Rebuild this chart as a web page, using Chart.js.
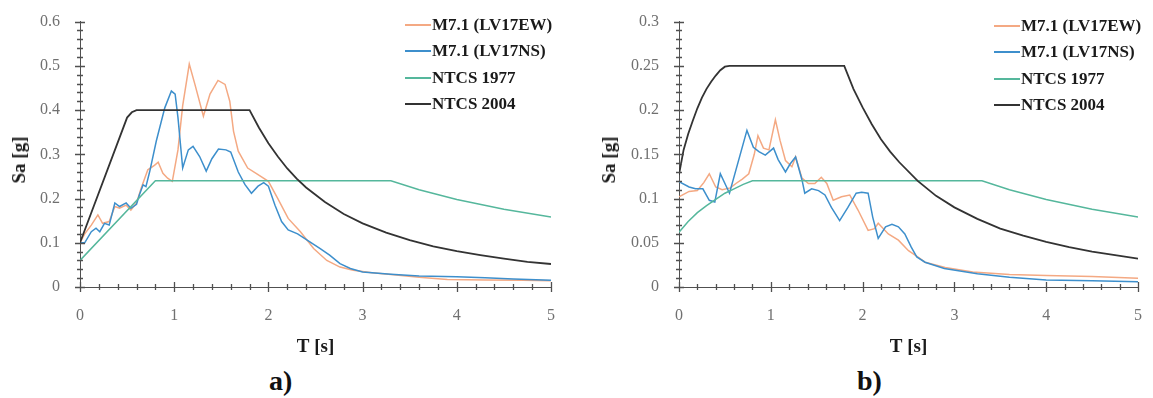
<!DOCTYPE html>
<html><head><meta charset="utf-8">
<script src="https://cdn.jsdelivr.net/npm/chart.js@4"></script>
<style>
body{margin:0;background:#fff;width:1153px;height:398px;position:relative;overflow:hidden;font-family:'Liberation Serif','Times New Roman',serif}
canvas{position:absolute;top:0}
#ca{left:0}
#cb{left:576px}
.leg{position:absolute;font-weight:bold;font-size:17px;color:#1a1a1a;white-space:nowrap}
.leg div{position:absolute;left:0;height:20px;line-height:20px}
.leg span{display:inline-block;width:26px;height:2px;vertical-align:middle;margin-right:1px;position:relative;top:-1px}
.yt{position:absolute;font-weight:bold;font-size:19px;color:#1a1a1a;white-space:nowrap;transform:translate(-50%,-50%) rotate(-90deg)}
.pl{position:absolute;font-weight:bold;font-size:28px;color:#111;line-height:30px}
</style></head>
<body>
<canvas id="ca" width="576" height="360"></canvas>
<canvas id="cb" width="577" height="360"></canvas>
<div class="yt" style="left:19px;top:160px">Sa [g]</div>
<div class="yt" style="left:609px;top:160px">Sa [g]</div>
<div class="pl" style="left:269px;top:366px">a)</div>
<div class="pl" style="left:857px;top:366px">b)</div>
<div class="leg" id="lega" style="left:405px;top:15px"></div>
<div class="leg" id="legb" style="left:994px;top:16px"></div>
<script>
// ---------- categories / labels ----------
const seriesNames = ['M7.1 (LV17EW)', 'M7.1 (LV17NS)', 'NTCS 1977', 'NTCS 2004'];
const xTicks = [0, 1, 2, 3, 4, 5];
const yTicksA = [0, 0.1, 0.2, 0.3, 0.4, 0.5, 0.6];
const yTicksB = [0, 0.05, 0.1, 0.15, 0.2, 0.25, 0.3];

// ---------- panel a) ----------
const tA_EW = [0, 0.05, 0.12, 0.19, 0.24, 0.31, 0.37, 0.42, 0.49, 0.54, 0.6, 0.65, 0.72, 0.79, 0.83, 0.88, 0.93, 0.98, 1.04, 1.09, 1.16, 1.22, 1.31, 1.38, 1.465, 1.54, 1.59, 1.63, 1.68, 1.78, 1.89, 2.0, 2.1, 2.21, 2.34, 2.48, 2.62, 2.76, 2.9, 3.1, 3.3, 3.6, 3.9, 4.3, 4.7, 5.0];
const sA_EW = [0.10, 0.12, 0.14, 0.163, 0.144, 0.148, 0.182, 0.178, 0.185, 0.174, 0.19, 0.224, 0.265, 0.275, 0.282, 0.257, 0.246, 0.239, 0.31, 0.41, 0.504, 0.458, 0.386, 0.436, 0.467, 0.458, 0.42, 0.352, 0.307, 0.269, 0.254, 0.239, 0.2, 0.155, 0.125, 0.087, 0.06, 0.045, 0.038, 0.032, 0.028, 0.022, 0.017, 0.016, 0.015, 0.014];

const tA_NS = [0, 0.05, 0.12, 0.17, 0.21, 0.26, 0.31, 0.37, 0.42, 0.49, 0.54, 0.6, 0.63, 0.67, 0.7, 0.74, 0.81, 0.9, 0.97, 1.01, 1.04, 1.09, 1.15, 1.2, 1.27, 1.34, 1.4, 1.47, 1.55, 1.6, 1.68, 1.75, 1.82, 1.89, 1.95, 2.0, 2.07, 2.14, 2.21, 2.31, 2.44, 2.55, 2.65, 2.76, 2.87, 3.0, 3.3, 3.6, 4.0, 4.3, 4.6, 5.0];
const sA_NS = [0.10, 0.10, 0.125, 0.133, 0.125, 0.144, 0.14, 0.19, 0.182, 0.19, 0.178, 0.187, 0.208, 0.231, 0.227, 0.261, 0.33, 0.405, 0.443, 0.436, 0.383, 0.269, 0.31, 0.318, 0.295, 0.262, 0.29, 0.312, 0.31, 0.305, 0.26, 0.232, 0.212, 0.228, 0.236, 0.228, 0.185, 0.148, 0.129, 0.12, 0.102, 0.087, 0.072, 0.053, 0.042, 0.034, 0.029, 0.025, 0.023, 0.021, 0.018, 0.015];

const tA_77 = [0, 0.8, 3.3, 3.6, 4.0, 4.5, 5.0];
const sA_77 = [0.06, 0.24, 0.24, 0.22, 0.198, 0.176, 0.158];

const tA_04 = [0, 0.5, 0.55, 0.6, 1.8, 1.9, 2.0, 2.1, 2.2, 2.3, 2.4, 2.6, 2.8, 3.0, 3.25, 3.5, 3.75, 4.0, 4.25, 4.5, 4.75, 5.0];
const sA_04 = [0.1, 0.383, 0.395, 0.4, 0.4, 0.36, 0.325, 0.295, 0.268, 0.245, 0.225, 0.192, 0.165, 0.144, 0.123, 0.106, 0.092, 0.081, 0.072, 0.064, 0.057, 0.052];

// ---------- panel b) ----------
const tB_EW = [0, 0.11, 0.2, 0.27, 0.33, 0.4, 0.47, 0.56, 0.62, 0.69, 0.76, 0.82, 0.86, 0.92, 0.98, 1.05, 1.1, 1.16, 1.23, 1.27, 1.34, 1.41, 1.48, 1.55, 1.61, 1.68, 1.77, 1.86, 1.95, 2.06, 2.13, 2.17, 2.28, 2.39, 2.5, 2.6, 2.68, 2.9, 3.2, 3.6, 4.0, 4.5, 5.0];
const sB_EW = [0.102, 0.108, 0.109, 0.118, 0.128, 0.113, 0.11, 0.112, 0.117, 0.122, 0.128, 0.15, 0.171, 0.157, 0.155, 0.189, 0.166, 0.143, 0.136, 0.147, 0.123, 0.117, 0.117, 0.124, 0.117, 0.098, 0.102, 0.104, 0.087, 0.064, 0.066, 0.072, 0.06, 0.053, 0.041, 0.034, 0.028, 0.022, 0.017, 0.014, 0.013, 0.012, 0.01];

const tB_NS = [0, 0.11, 0.18, 0.26, 0.33, 0.39, 0.45, 0.55, 0.74, 0.81, 0.87, 0.94, 1.03, 1.08, 1.16, 1.21, 1.27, 1.34, 1.37, 1.445, 1.52, 1.59, 1.66, 1.75, 1.84, 1.93, 1.99, 2.06, 2.11, 2.17, 2.25, 2.32, 2.39, 2.46, 2.53, 2.59, 2.68, 2.89, 3.25, 3.6, 4.0, 4.5, 5.0];
const sB_NS = [0.119, 0.113, 0.111, 0.111, 0.098, 0.096, 0.128, 0.106, 0.177, 0.158, 0.153, 0.149, 0.157, 0.144, 0.13, 0.139, 0.147, 0.121, 0.106, 0.111, 0.109, 0.104, 0.09, 0.075, 0.09, 0.106, 0.107, 0.106, 0.079, 0.055, 0.068, 0.071, 0.068, 0.06, 0.045, 0.034, 0.028, 0.021, 0.015, 0.011, 0.008, 0.007, 0.006];

const tB_77 = [0, 0.1, 0.2, 0.3, 0.4, 0.5, 0.6, 0.7, 0.8, 3.3, 3.6, 4.0, 4.5, 5.0];
const sB_77 = [0.062, 0.074, 0.084, 0.092, 0.099, 0.106, 0.111, 0.116, 0.12, 0.12, 0.11, 0.099, 0.088, 0.079];

const tB_04 = [0, 0.05, 0.1, 0.15, 0.2, 0.25, 0.3, 0.35, 0.4, 0.45, 0.5, 0.55, 1.8, 1.9, 2.0, 2.1, 2.2, 2.3, 2.4, 2.6, 2.8, 3.0, 3.25, 3.5, 3.75, 4.0, 4.25, 4.5, 4.75, 5.0];
const sB_04 = [0.127, 0.155, 0.173, 0.188, 0.202, 0.214, 0.224, 0.232, 0.239, 0.245, 0.249, 0.25, 0.25, 0.224, 0.203, 0.184, 0.167, 0.153, 0.141, 0.12, 0.103, 0.09, 0.077, 0.066, 0.058, 0.051, 0.045, 0.04, 0.036, 0.032];

// ---------- styles ----------
const colors = ['#f4a983', '#3d8fcc', '#55b79c', '#333333'];
const FONT = "'Liberation Serif', 'Times New Roman', serif";

function pts(t, s) { return t.map((v, i) => ({x: v, y: s[i]})); }

// major / minor tick marks crossing the axes, placed through the chart's scales
function makeTickPlugin(xMinor, xMajor, yMinor, yMajor) {
  return {
    id: 'crossTicks',
    afterDraw(chart) {
      const ctx = chart.ctx, ca = chart.chartArea;
      const xs = chart.scales.x, ys = chart.scales.y;
      ctx.save();
      ctx.strokeStyle = '#505050';
      ctx.lineWidth = 1.3;
      ctx.beginPath();
      const nX = Math.round((xs.max - xs.min) / xMinor);
      for (let i = 0; i <= nX; i++) {
        const v = xs.min + i * xMinor;
        const r = v / xMajor;
        const major = Math.abs(r - Math.round(r)) < 1e-6;
        const px = Math.round(xs.getPixelForValue(v)) + 0.5;
        const l = major ? 5 : 3;
        ctx.moveTo(px, ca.bottom - l);
        ctx.lineTo(px, ca.bottom + l);
      }
      const nY = Math.round((ys.max - ys.min) / yMinor);
      for (let i = 0; i <= nY; i++) {
        const v = ys.min + i * yMinor;
        const r = v / yMajor;
        const major = Math.abs(r - Math.round(r)) < 1e-6;
        const py = Math.round(ys.getPixelForValue(v)) + 0.5;
        const l = major ? 5 : 3;
        ctx.moveTo(ca.left - l, py);
        ctx.lineTo(ca.left + l, py);
      }
      ctx.stroke();
      ctx.restore();
    }
  };
}

function makeChart(id, data, yMax, yStep, yTicks, yMinor, yWidth, padRight) {
  const datasets = data.map((d, i) => ({
    label: seriesNames[i],
    data: d,
    borderColor: colors[i],
    backgroundColor: colors[i],
    borderWidth: i === 3 ? 1.8 : 1.5,
    pointRadius: 0,
    tension: 0,
    order: 3 - i
  }));
  return new Chart(document.getElementById(id), {
    type: 'line',
    data: {datasets},
    options: {
      responsive: false,
      animation: false,
      layout: {padding: {top: 21, right: padRight, left: 0, bottom: 0}},
      plugins: {
        legend: {display: false},
        tooltip: {enabled: false}
      },
      scales: {
        x: {
          type: 'linear', min: 0, max: 5,
          afterBuildTicks: s => { s.ticks = xTicks.map(v => ({value: v})); },
          afterFit: s => { s.height = 73; },
          grid: {display: false},
          border: {display: true, color: '#505050', width: 1},
          ticks: {padding: 11, color: '#707070', font: {family: FONT, size: 16},
                  callback: v => String(+v.toFixed(2))},
          title: {display: true, text: 'T [s]', color: '#1a1a1a',
                  font: {family: FONT, size: 19, weight: 'bold'}, padding: {top: 0, bottom: 2}}
        },
        y: {
          type: 'linear', min: 0, max: yMax,
          afterBuildTicks: s => { s.ticks = yTicks.map(v => ({value: v})); },
          afterFit: s => { s.width = yWidth; },
          grid: {display: false},
          border: {display: true, color: '#505050', width: 1},
          ticks: {padding: 12, color: '#707070', font: {family: FONT, size: 16},
                  callback: v => String(+v.toFixed(2))}
        }
      }
    },
    plugins: [makeTickPlugin(0.2, 1, yMinor, yStep)]
  });
}

makeChart('ca', [pts(tA_EW, sA_EW), pts(tA_NS, sA_NS), pts(tA_77, sA_77), pts(tA_04, sA_04)],
          0.6, 0.1, yTicksA, 0.02, 80, 25);
makeChart('cb', [pts(tB_EW, sB_EW), pts(tB_NS, sB_NS), pts(tB_77, sB_77), pts(tB_04, sB_04)],
          0.3, 0.05, yTicksB, 0.01, 103, 14);

// legends
function buildLegend(id) {
  const el = document.getElementById(id);
  seriesNames.forEach((n, i) => {
    const d = document.createElement('div');
    d.style.top = (i * 26.3) + 'px';
    const sp = document.createElement('span');
    sp.style.background = colors[i];
    d.appendChild(sp);
    d.appendChild(document.createTextNode(n));
    el.appendChild(d);
  });
}
buildLegend('lega');
buildLegend('legb');
</script>
</body></html>
